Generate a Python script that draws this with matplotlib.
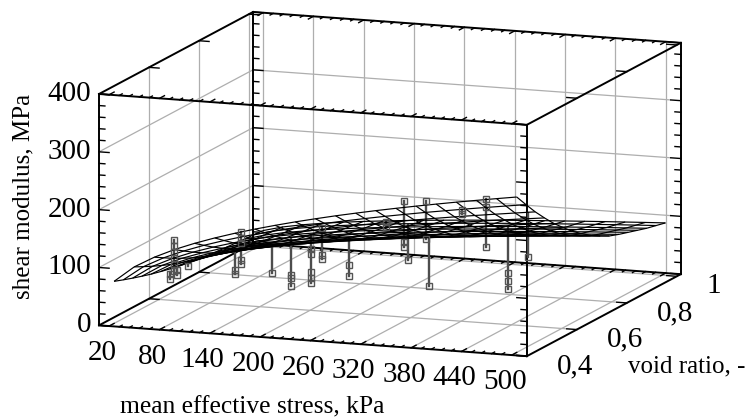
#!/usr/bin/env python3
import matplotlib
matplotlib.use('agg')
import matplotlib.pyplot as plt
from mpl_toolkits.mplot3d import proj3d
import numpy as np

plt.rcParams['font.family'] = ['Liberation Serif', 'DejaVu Serif']

# mean effective stress mesh (kPa)
stress = [20, 44, 68, 92, 116, 140, 164, 188, 212, 236, 260, 284, 308, 332, 356, 380, 404, 428, 452, 476, 500]
# void ratio mesh
void = [0.42, 0.457, 0.494, 0.531, 0.568, 0.606, 0.643, 0.68, 0.717, 0.754, 0.791, 0.829, 0.866, 0.903, 0.94, 0.978, 1.015]
# fitted shear modulus, one row per void ratio
modulus = [
    [72.7, 100.2, 119.5, 135.2, 148.5, 160.3, 170.9, 180.6, 189.6, 198.1, 206.0, 213.6, 220.7, 227.6, 234.1, 240.4, 246.4, 252.3, 257.9, 263.4, 268.7],
    [66.8, 92.1, 109.9, 124.2, 136.5, 147.3, 157.1, 166.0, 174.3, 182.1, 189.4, 196.3, 202.9, 209.2, 215.2, 221.0, 226.5, 231.9, 237.1, 242.1, 247.0],
    [61.2, 84.3, 100.5, 113.7, 124.9, 134.8, 143.7, 151.9, 159.5, 166.6, 173.3, 179.6, 185.7, 191.4, 196.9, 202.2, 207.3, 212.2, 216.9, 221.5, 226.0],
    [56.0, 77.2, 92.1, 104.1, 114.4, 123.5, 131.6, 139.1, 146.1, 152.6, 158.7, 164.5, 170.1, 175.3, 180.3, 185.2, 189.8, 194.4, 198.7, 202.9, 207.0],
    [51.1, 70.5, 84.1, 95.1, 104.4, 112.7, 120.2, 127.0, 133.4, 139.3, 144.9, 150.2, 155.3, 160.1, 164.7, 169.1, 173.3, 177.5, 181.4, 185.3, 189.0],
    [46.8, 64.5, 77.0, 87.0, 95.6, 103.2, 110.0, 116.3, 122.1, 127.5, 132.7, 137.5, 142.1, 146.5, 150.7, 154.8, 158.7, 162.4, 166.1, 169.6, 173.0],
    [42.8, 58.9, 70.3, 79.5, 87.3, 94.2, 100.5, 106.2, 111.5, 116.5, 121.2, 125.6, 129.8, 133.8, 137.6, 141.3, 144.9, 148.3, 151.7, 154.9, 158.0],
    [39.4, 54.2, 64.7, 73.2, 80.4, 86.8, 92.5, 97.8, 102.7, 107.3, 111.6, 115.6, 119.5, 123.2, 126.8, 130.2, 133.4, 136.6, 139.7, 142.6, 145.5],
    [36.3, 50.0, 59.6, 67.4, 74.0, 79.9, 85.2, 90.1, 94.6, 98.8, 102.8, 106.5, 110.1, 113.5, 116.7, 119.9, 122.9, 125.8, 128.6, 131.3, 134.0],
    [33.7, 46.4, 55.4, 62.6, 68.8, 74.3, 79.2, 83.7, 87.9, 91.8, 95.5, 99.0, 102.3, 105.5, 108.5, 111.4, 114.2, 116.9, 119.5, 122.0, 124.5],
    [31.4, 43.2, 51.6, 58.3, 64.1, 69.2, 73.8, 78.0, 81.9, 85.5, 88.9, 92.2, 95.3, 98.3, 101.1, 103.8, 106.4, 108.9, 111.3, 113.7, 116.0],
    [29.8, 41.0, 48.9, 55.3, 60.8, 65.6, 69.9, 73.9, 77.6, 81.1, 84.3, 87.4, 90.4, 93.2, 95.8, 98.4, 100.9, 103.3, 105.6, 107.8, 110.0],
    [28.4, 39.1, 46.7, 52.8, 58.0, 62.6, 66.8, 70.6, 74.1, 77.4, 80.5, 83.5, 86.3, 88.9, 91.5, 93.9, 96.3, 98.6, 100.8, 102.9, 105.0],
    [27.1, 37.3, 44.5, 50.3, 55.3, 59.6, 63.6, 67.2, 70.6, 73.7, 76.7, 79.5, 82.2, 84.7, 87.1, 89.5, 91.7, 93.9, 96.0, 98.0, 100.0],
    [25.7, 35.4, 42.3, 47.8, 52.5, 56.7, 60.4, 63.9, 67.1, 70.0, 72.8, 75.5, 78.0, 80.5, 82.8, 85.0, 87.1, 89.2, 91.2, 93.1, 95.0],
    [24.6, 33.9, 40.5, 45.8, 50.3, 54.3, 57.9, 61.2, 64.2, 67.1, 69.8, 72.3, 74.8, 77.1, 79.3, 81.4, 83.5, 85.4, 87.4, 89.2, 91.0],
    [23.5, 32.4, 38.7, 43.8, 48.1, 51.9, 55.3, 58.5, 61.4, 64.1, 66.7, 69.1, 71.5, 73.7, 75.8, 77.8, 79.8, 81.7, 83.5, 85.3, 87.0],
]

# measured points, all read at the same depth in the picture
pt_stress = [68, 68, 68, 68, 68, 68, 63, 63, 71, 71, 84, 148, 148, 148, 148, 148, 140, 140, 184, 207, 207, 207,
             231, 231, 231, 231, 231, 244, 244, 244, 276, 276, 320, 320, 342, 342, 342, 346, 368, 368, 372,
             411, 411, 439, 439, 439, 466, 466, 466, 489]
pt_modulus = [130, 120, 110, 99, 89, 78, 62, 71, 70, 79, 87, 153, 142, 134, 104, 98, 87, 79, 86, 84, 79, 66,
              93, 82, 74, 133, 123, 170, 123, 116, 110, 90, 188, 180, 227, 156, 148, 125, 230, 164, 83,
              218, 212, 240, 226, 158, 116, 102, 87, 146]
pt_void = 0.5

# stems between surface and points
stem_stress = [68, 63, 71, 84, 148, 140, 184, 207, 231, 244, 276, 320, 342, 346, 368, 372, 411, 439, 466, 489]
stem_top = [130, 75, 85, 95, 153, 115, 129, 148, 156, 170, 154, 188, 227, 186, 230, 171, 218, 240, 193, 221]
stem_bot = [78, 62, 70, 87, 98, 79, 86, 66, 74, 116, 90, 180, 148, 125, 164, 83, 212, 158, 87, 146]

x_ticks = [20, 80, 140, 200, 260, 320, 380, 440, 500]
x_minor = [32, 44, 56, 68, 92, 104, 116, 128, 152, 164, 176, 188, 212, 224, 236, 248, 272, 284, 296, 308,
           332, 344, 356, 368, 392, 404, 416, 428, 452, 464, 476, 488]
y_ticks = [0.4, 0.6, 0.8, 1.0]
y_labels = ['0,4', '0,6', '0,8', '1']
z_ticks = [0, 100, 200, 300, 400]
z_minor = [20, 40, 60, 80, 120, 140, 160, 180, 220, 240, 260, 280, 320, 340, 360, 380]

x0, x1 = 8, 518
y0, y1 = 0.4, 1.016
z0, z1 = 0, 400

fig = plt.figure(figsize=(7.47, 4.19), dpi=100)
ax = fig.add_axes([51 / 747, -104 / 419, 660 / 747, 660 / 419], projection='3d', computed_zorder=False)
ax.set_proj_type('ortho')
ax.view_init(elev=11.3, azim=-69.8)
ax.set_box_aspect((456, 446, 236))
ax.set_xlim(x0, x1, view_margin=0)
ax.set_ylim(y0, y1, view_margin=0)
ax.set_zlim(z0, z1, view_margin=0)
ax.set_axis_off()


def seg(a, b, **kw):
    ax.plot([a[0], b[0]], [a[1], b[1]], [a[2], b[2]], **kw)


def label(x, y, z, text, dx, dy, ha):
    # offset in pixels from the tick, plain 2d text
    px, py, _ = proj3d.proj_transform(x, y, z, ax.get_proj())
    ax.annotate(text, (px, py), xytext=(dx, dy), textcoords='offset pixels', fontsize=21,
                ha=ha, va='center', annotation_clip=False)


grid = dict(color='#aeaeae', lw=0.9, zorder=1)
box = dict(color='black', lw=1.4, zorder=2, solid_capstyle='projecting')
tick = dict(color='black', lw=1.0, zorder=2)

# grid on floor and walls
for x in x_ticks:
    seg((x, y0, 0), (x, y1, 0), **grid)
    seg((x, y1, 0), (x, y1, z1), **grid)
for y in y_ticks[1:]:
    seg((x0, y, 0), (505, y, 0), **grid)
    seg((x0, y, 0), (x0, y, z1), **grid)
for z in z_ticks[1:-1]:
    seg((x0, y0, z), (x0, y1, z), **grid)
    seg((x0, y1, z), (505, y1, z), **grid)

# box edges
for y, z in [(y0, z0), (y0, z1), (y1, z0), (y1, z1)]:
    seg((x0, y, z), (x1, y, z), **box)
for x, z in [(x0, z0), (x0, z1), (x1, z0), (x1, z1)]:
    seg((x, y0, z), (x, y1, z), **box)
for x, y in [(x0, y0), (x0, y1), (x1, y0), (x1, y1)]:
    seg((x, y, z0), (x, y, z1), **box)

# ticks on the box edges
for z in z_ticks + z_minor:
    ln = 12 if z in z_ticks else 7
    for y in (y0, y1):
        seg((x0, y, z), (x0 + ln, y, z), **tick)
        seg((x1, y, z), (x1 - ln, y, z), **tick)
for y in y_ticks:
    for z in (z0, z1):
        seg((x0, y, z), (x0 + 12, y, z), **tick)
        seg((x1, y, z), (x1 - 12, y, z), **tick)
for x in x_ticks + x_minor:
    ln = 0.02 if x in x_ticks else 0.012
    for z in (z0, z1):
        seg((x, y0, z), (x, y0 + ln, z), **tick)
        seg((x, y1, z), (x, y1 - ln, z), **tick)

# stems, surface, points
for x, top, bot in zip(stem_stress, stem_top, stem_bot):
    seg((x, pt_void, top), (x, pt_void, bot), color='#4d4d4d', lw=1.7, zorder=3)

X, Y = np.meshgrid(stress, void)
ax.plot_wireframe(X, Y, np.array(modulus), color='black', lw=0.85, zorder=4)

ax.plot(pt_stress, [pt_void] * len(pt_stress), pt_modulus, ls='none', marker='s', ms=4.2, mfc='none',
        mec='#555555', mew=1.0, zorder=5)

# tick labels
for x in x_ticks:
    label(x, y0, 0, str(x), -7, -27, 'center')
for y, lab in zip(y_ticks, y_labels):
    label(x1, y, 0, lab, 30, -10, 'left')
for z in z_ticks:
    label(x0, y0, z, str(z), -8, 0, 'right')

fig.text(23 / 747, 1 - 196 / 419, 'shear modulus, MPa', fontsize=18, rotation=90, ha='center', va='center')
fig.text(252 / 747, 1 - 407 / 419, 'mean effective stress, kPa', fontsize=18.4, ha='center', va='center')
fig.text(687 / 747, 1 - 366 / 419, 'void ratio, -', fontsize=18, ha='center', va='center')

fig.savefig('out.png', dpi=100)
